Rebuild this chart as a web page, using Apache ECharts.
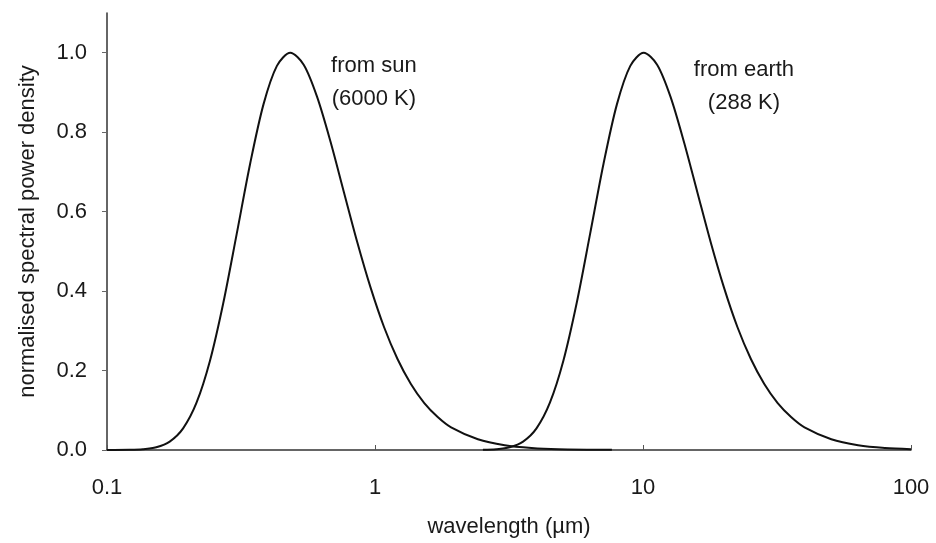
<!DOCTYPE html>
<html lang="en" style="height: 100%">
<head>
  <meta charset="utf-8">
</head>
<body style="height: 100%; margin: 0; background: #fff">
  <div id="container" style="width: 936px; height: 543px"></div>

  <script type="text/javascript" src="https://cdn.jsdelivr.net/npm/echarts@6.0.0/dist/echarts.min.js"></script>

  <script type="text/javascript">
    // sun curve (6000 K), wavelength in um and normalised density
    var sunWave = [0.1, 0.1213, 0.1361, 0.1527, 0.1714, 0.1923, 0.2158, 0.2421, 0.2716, 0.3048, 0.3419,
      0.3836, 0.4305, 0.483, 0.5419, 0.6081, 0.6825, 0.7656, 0.8588, 0.9636, 1.0814, 1.2133,
      1.3611, 1.5272, 1.7137, 1.9228, 2.4208, 3.0477, 3.8365, 4.83, 7.655];
    var sunValue = [0, 0.0004, 0.0018, 0.0068, 0.0212, 0.0545, 0.119, 0.224, 0.370, 0.544, 0.720,
      0.870, 0.967, 1.000, 0.970, 0.889, 0.776, 0.649, 0.523, 0.408, 0.309, 0.229,
      0.166, 0.118, 0.083, 0.057, 0.027, 0.012, 0.005, 0.002, 0.0004];

    // earth curve (288 K)
    var earthWave = [2.527, 2.835, 3.181, 3.569, 4.005, 4.494, 5.042, 5.657, 6.348, 7.121, 7.991,
      8.967, 10.06, 11.29, 12.67, 14.21, 15.95, 17.89, 20.07, 22.52, 25.27, 28.35,
      31.81, 35.69, 40.05, 50.42, 63.48, 79.91, 100];
    var earthValue = [0.0004, 0.0018, 0.0068, 0.0212, 0.0545, 0.119, 0.224, 0.370, 0.544, 0.720, 0.870,
      0.967, 1.000, 0.970, 0.889, 0.776, 0.649, 0.523, 0.408, 0.309, 0.229, 0.166,
      0.118, 0.083, 0.057, 0.027, 0.012, 0.005, 0.0022];

    var yTicks = [0, 0.2, 0.4, 0.6, 0.8, 1.0];

    // annotation texts and where they sit (data coords)
    var noteText = ['from sun\n(6000 K)', 'from earth\n(288 K)'];
    var noteWave = [0.99, 23.8];
    var noteValue = [0.925, 0.915];

    function pairs(xs, ys) {
      var res = [];
      for (var i = 0; i < xs.length; i++) res.push([xs[i], ys[i]]);
      return res;
    }

    var dom = document.getElementById('container');
    var myChart = echarts.init(dom, null, { renderer: 'canvas' });

    var font = '"Liberation Sans", Arial, sans-serif';
    var txt = '#1a1a1a';

    var option = {
      backgroundColor: '#fff',
      animation: false,
      grid: { left: 107, right: 25, top: 13, bottom: 93 },
      xAxis: {
        type: 'log',
        logBase: 10,
        min: 0.1,
        max: 100,
        name: 'wavelength (\u00b5m)',
        nameLocation: 'middle',
        nameGap: 66,
        nameTextStyle: { fontFamily: font, fontSize: 22, color: txt },
        axisLine: { lineStyle: { color: '#333', width: 1.5 } },
        axisTick: { inside: true, length: 5, lineStyle: { color: '#555' } },
        minorTick: { show: false },
        splitLine: { show: false },
        axisLabel: {
          margin: 27,
          fontFamily: font, fontSize: 22, color: txt,
          formatter: function (v) { return String(+v.toPrecision(3)); }
        }
      },
      yAxis: {
        type: 'value',
        min: 0,
        max: 1.1,
        name: 'normalised spectral power density',
        nameLocation: 'middle',
        nameGap: 68,
        nameTextStyle: { fontFamily: font, fontSize: 22, color: txt },
        axisLine: { show: true, lineStyle: { color: '#333', width: 1.5 } },
        axisTick: { show: true, length: 5, customValues: yTicks, lineStyle: { color: '#666' } },
        splitLine: { show: false },
        axisLabel: {
          margin: 20,
          customValues: yTicks,
          fontFamily: font, fontSize: 22, color: txt,
          formatter: function (v) { return v.toFixed(1); }
        }
      },
      series: [
        {
          name: 'sun',
          type: 'line',
          data: pairs(sunWave, sunValue),
          smooth: 0.3,
          showSymbol: false,
          lineStyle: { color: '#111', width: 2 }
        },
        {
          name: 'earth',
          type: 'line',
          data: pairs(earthWave, earthValue),
          smooth: 0.3,
          showSymbol: false,
          lineStyle: { color: '#111', width: 2 }
        },
        {
          name: 'notes',
          type: 'scatter',
          symbolSize: 0,
          itemStyle: { opacity: 1 },
          data: pairs(noteWave, noteValue).map(function (p, i) {
            return { value: p, label: { formatter: noteText[i] } };
          }),
          label: {
            show: true,
            position: 'inside',
            opacity: 1,
            fontFamily: font, fontSize: 22, color: txt,
            lineHeight: 33, align: 'center'
          }
        }
      ]
    };

    myChart.setOption(option);
    window.addEventListener('resize', myChart.resize);
  </script>
</body>
</html>
